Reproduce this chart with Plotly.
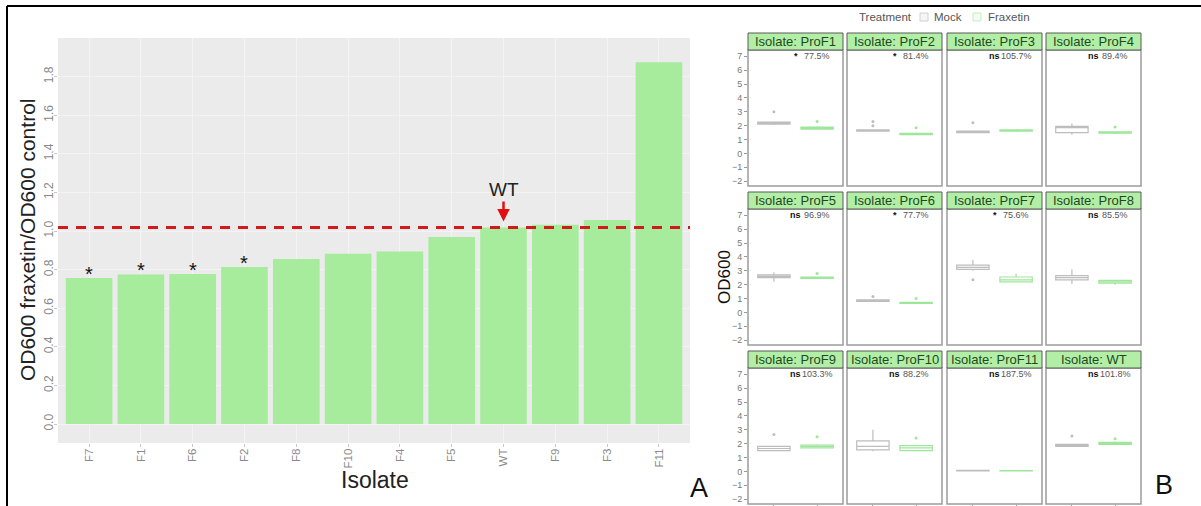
import plotly.graph_objects as go

# ---------------- data ----------------
# Panel A: OD600 fraxetin / OD600 control, sorted
isolates_a = ["F7", "F1", "F6", "F2", "F8", "F10", "F4", "F5", "WT", "F9", "F3", "F11"]
ratio_a = [0.756, 0.775, 0.777, 0.814, 0.855, 0.882, 0.894, 0.969, 1.018, 1.033, 1.057, 1.875]
signif_a = ["*", "*", "*", "*", "", "", "", "", "", "", "", ""]
wt_ratio = 1.018

# Panel B: per-isolate boxplots (Mock vs Fraxetin)
isolates_b = ["ProF1", "ProF2", "ProF3", "ProF4", "ProF5", "ProF6",
              "ProF7", "ProF8", "ProF9", "ProF10", "ProF11", "WT"]
sig_b = ["*", "*", "ns", "ns", "ns", "*", "*", "ns", "ns", "ns", "ns", "ns"]
pct_b = ["77.5%", "81.4%", "105.7%", "89.4%", "96.9%", "77.7%",
         "75.6%", "85.5%", "103.3%", "88.2%", "187.5%", "101.8%"]

mock_q1 = [2.10, 1.60, 1.50, 1.50, 2.50, 0.80, 3.10, 2.35, 1.50, 1.55, 0.03, 1.80]
mock_med = [2.20, 1.65, 1.55, 1.85, 2.60, 0.85, 3.25, 2.50, 1.65, 1.80, 0.05, 1.85]
mock_q3 = [2.25, 1.70, 1.60, 1.95, 2.70, 0.90, 3.40, 2.65, 1.80, 2.20, 0.07, 1.95]
mock_lo = [2.05, 1.60, 1.45, 1.35, 2.20, 0.80, 3.00, 2.05, 1.45, 1.45, 0.00, 1.80]
mock_hi = [2.30, 1.70, 1.60, 2.15, 2.90, 0.90, 3.80, 3.10, 1.80, 3.00, 0.10, 2.00]
mock_out = [[3.0], [2.0, 2.3], [2.2], [], [], [1.15], [2.35], [], [2.65], [], [], [2.55]]

frax_q1 = [1.75, 1.35, 1.60, 1.45, 2.45, 0.65, 2.20, 2.10, 1.70, 1.50, 0.03, 1.95]
frax_med = [1.80, 1.40, 1.65, 1.50, 2.50, 0.70, 2.35, 2.20, 1.80, 1.70, 0.05, 2.00]
frax_q3 = [1.90, 1.45, 1.70, 1.55, 2.55, 0.72, 2.55, 2.30, 1.90, 1.85, 0.06, 2.10]
frax_lo = [1.70, 1.30, 1.60, 1.40, 2.40, 0.62, 2.15, 2.00, 1.65, 1.45, 0.02, 1.90]
frax_hi = [1.95, 1.50, 1.75, 1.55, 2.55, 0.75, 2.80, 2.35, 1.95, 1.90, 0.08, 2.15]
frax_out = [[2.3], [1.85], [], [1.9], [2.8], [1.0], [], [], [2.5], [2.4], [], [2.35]]

treatments = ["Mock", "Fraxetin"]
y_ticks_b = [-2, -1, 0, 1, 2, 3, 4, 5, 6, 7]

# ---------------- styling ----------------
W, H = 1201, 506
FONT = "Liberation Sans, Arial, sans-serif"
BAR_GREEN = "#a6ec9c"
MOCK_COL = "#bdbdbd"
FRAX_COL = "#9ee69a"
STRIP_FILL = "#b2eea6"


def xd(px):
    return px / W


def yd(py):
    return 1 - py / H


fig = go.Figure()

# ---------------- panel A ----------------
fig.add_trace(go.Bar(x=isolates_a, y=ratio_a, marker_color=BAR_GREEN,
                     marker_line_width=0, width=0.9, xaxis="x", yaxis="y",
                     showlegend=False))

layout = dict(
    width=W, height=H, autosize=False,
    margin=dict(l=0, r=0, t=0, b=0),
    paper_bgcolor="white", plot_bgcolor="white",
    font=dict(family=FONT),
    showlegend=False,
    xaxis=dict(domain=[xd(58), xd(690)], anchor="y", type="category",
               categoryorder="array", categoryarray=isolates_a,
               range=[-0.6, len(isolates_a) - 0.4], tickangle=-90,
               tickfont=dict(size=11.5, color="#8a8a8a"), ticks="outside",
               ticklen=3, tickcolor="#c8c8c8", ticklabelstandoff=-3,
               showgrid=True, gridcolor="#f3f3f3", zeroline=False, showline=False),
    yaxis=dict(domain=[yd(443), yd(38)], anchor="x",
               range=[-0.0984, 2.0], tickvals=[0, 0.2, 0.4, 0.6, 0.8, 1.0, 1.2, 1.4, 1.6, 1.8],
               tickformat=".1f", tickangle=-90,
               tickfont=dict(size=12, color="#8a8a8a"), ticks="outside",
               ticklen=3, tickcolor="#c8c8c8", ticklabelstandoff=-4,
               showgrid=True, gridcolor="#f3f3f3", zeroline=False, showline=False),
)

shapes = [
    dict(type="rect", xref="x domain", yref="y domain", x0=0, x1=1, y0=0, y1=1,
         fillcolor="#ebebeb", line_width=0, layer="below"),
    dict(type="line", xref="x domain", yref="y", x0=0, x1=1, y0=wt_ratio, y1=wt_ratio,
         line=dict(color="#d21a1a", width=3, dash="10px,8px"), layer="above"),
    # outer frame (top and left edge)
    dict(type="line", xref="paper", yref="paper", x0=xd(7), x1=1.0, y0=yd(6), y1=yd(6),
         line=dict(color="black", width=2)),
    dict(type="line", xref="paper", yref="paper", x0=xd(7), x1=xd(7), y0=yd(6), y1=0,
         line=dict(color="black", width=2)),
]

annotations = []
for iso, v, s in zip(isolates_a, ratio_a, signif_a):
    if s:
        annotations.append(dict(x=iso, y=v, xref="x", yref="y", text=s,
                                showarrow=False, yanchor="bottom", yshift=-9,
                                font=dict(size=20, color="#111")))
annotations.append(dict(x="WT", y=wt_ratio, xref="x", yref="y", text="WT",
                        showarrow=True, ax=0, ay=-38, standoff=6,
                        arrowhead=2, arrowsize=1, arrowwidth=2.5,
                        arrowcolor="#e01010", font=dict(size=19, color="#222")))


def paper_text(px, py, text, size, color, angle=0, xanchor="center"):
    return dict(x=xd(px), y=yd(py), xref="paper", yref="paper", text=text,
                textangle=angle, showarrow=False, xanchor=xanchor,
                yanchor="middle", font=dict(size=size, color=color))


annotations.append(paper_text(375, 480, "Isolate", 23, "#222"))
annotations.append(paper_text(28, 240, "OD600 fraxetin/OD600 control", 21, "#222", angle=-90))
annotations.append(paper_text(699, 488, "A", 27, "#111"))
annotations.append(paper_text(1164, 485, "B", 27, "#111"))

# ---------------- panel B ----------------
col_left = [748, 847, 947, 1046]
col_w = 95
row_top = [50, 209, 368]
panel_h = 136
strip_h = 17
yr = [-2.35, 7.45]

for i, iso in enumerate(isolates_b):
    r, c = divmod(i, 4)
    n = i + 2
    xa, ya = f"x{n}", f"y{n}"
    x0p = col_left[c]
    y0p = row_top[r]
    layout[f"xaxis{n}"] = dict(domain=[xd(x0p), xd(x0p + col_w)], anchor=ya,
                               range=[-0.6, 1.6], tickvals=[0, 1],
                               showticklabels=False,
                               ticks="outside" if r == 2 else "",
                               ticklen=3, tickcolor="#999",
                               showgrid=False, zeroline=False, showline=False)
    layout[f"yaxis{n}"] = dict(domain=[yd(y0p + panel_h), yd(y0p)], anchor=xa,
                               range=yr, tickvals=y_ticks_b,
                               showticklabels=(c == 0),
                               ticks="outside" if c == 0 else "",
                               ticklen=3, tickcolor="#999",
                               tickfont=dict(size=9, color="#777"),
                               showgrid=False, zeroline=False, showline=False)

    stats = [
        (0, mock_q1[i], mock_med[i], mock_q3[i], mock_lo[i], mock_hi[i], mock_out[i], MOCK_COL),
        (1, frax_q1[i], frax_med[i], frax_q3[i], frax_lo[i], frax_hi[i], frax_out[i], FRAX_COL),
    ]
    for xpos, q1, med, q3, lo, hi, outs, col in stats:
        fig.add_trace(go.Box(x=[xpos], q1=[q1], median=[med], q3=[q3],
                             lowerfence=[lo], upperfence=[hi], width=0.75,
                             whiskerwidth=0, fillcolor="white",
                             line=dict(color=col, width=1.2), boxpoints=False,
                             xaxis=xa, yaxis=ya, showlegend=False,
                             name=treatments[xpos]))
        if outs:
            fig.add_trace(go.Scatter(x=[xpos] * len(outs), y=outs, mode="markers",
                                     marker=dict(size=3, color=col),
                                     xaxis=xa, yaxis=ya, showlegend=False))

    # panel frame
    shapes.append(dict(type="rect", xref=f"{xa} domain", yref=f"{ya} domain",
                       x0=0, x1=1, y0=0, y1=1, line=dict(color="#9c9c9c", width=1.5),
                       fillcolor="rgba(0,0,0,0)", layer="above"))
    # strip
    shapes.append(dict(type="rect", xref=f"{xa} domain", yref=f"{ya} domain",
                       x0=0, x1=1, y0=1, y1=1 + strip_h / panel_h,
                       fillcolor=STRIP_FILL, line=dict(color="#5a5a5a", width=1)))
    annotations.append(dict(x=0.5, y=1 + strip_h / panel_h / 2,
                            xref=f"{xa} domain", yref=f"{ya} domain",
                            text=f"Isolate: {iso}", showarrow=False,
                            yanchor="middle", xanchor="center",
                            font=dict(size=13, color="#1d4a1d")))
    # significance + percentage
    annotations.append(dict(x=0.5, y=7, xref=xa, yref=ya,
                            text=f"<b>{sig_b[i]}</b>", showarrow=False,
                            xanchor="center", yanchor="middle",
                            font=dict(size=9, color="#111")))
    annotations.append(dict(x=1, y=7, xref=xa, yref=ya, text=pct_b[i],
                            showarrow=False, xanchor="center", yanchor="middle",
                            font=dict(size=9, color="#555")))

# y-axis title panel B
annotations.append(paper_text(724, 277, "OD600", 17, "#111", angle=-90))

# legend (panel B)
annotations.append(paper_text(857, 17, "Treatment", 11.5, "#555", xanchor="left"))
annotations.append(paper_text(932, 17, treatments[0], 11.5, "#555", xanchor="left"))
annotations.append(paper_text(986, 17, treatments[1], 11.5, "#555", xanchor="left"))
shapes.append(dict(type="rect", xref="paper", yref="paper",
                   x0=xd(920), x1=xd(928), y0=yd(21), y1=yd(13),
                   fillcolor="#f6f6f6", line=dict(color="#d0d0d0", width=1)))
shapes.append(dict(type="rect", xref="paper", yref="paper",
                   x0=xd(973), x1=xd(981), y0=yd(21), y1=yd(13),
                   fillcolor="#f3fbf2", line=dict(color="#c4efbe", width=1)))

layout["shapes"] = shapes
layout["annotations"] = annotations
fig.update_layout(**layout)

fig.write_html("out.html")
